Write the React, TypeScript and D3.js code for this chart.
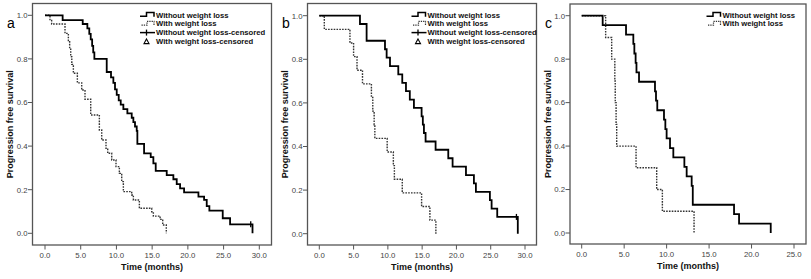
import React from "react";
import * as d3 from "d3";

// ---------- data ----------
const yTicks = [0, 0.2, 0.4, 0.6, 0.8, 1.0];
const xTicksAB = [0, 5, 10, 15, 20, 25, 30];
const xTicksC = [0, 5, 10, 15, 20, 25];
const panelLabels = ["a", "b", "c"];
const seriesNames = ["Without weight loss", "With weight loss"];
const censorNames = ["Without weight loss-censored", "With weight loss-censored"];

// panel a
const aWithoutTime = [2.47, 5.28, 5.93, 6.2, 6.4, 6.6, 6.75, 6.91, 8.64, 9.24, 9.57, 9.8, 10.04, 10.32, 10.6, 10.97, 11.53, 12.14, 12.37, 12.6, 12.84, 12.93, 13.87, 14.8, 15.17, 15.5, 17.04, 17.97, 18.44, 18.91, 19.47, 21.48, 22.27, 22.64, 23.01, 24.88, 25.91, 29.05];
const aWithoutSurv = [0.978, 0.96, 0.94, 0.915, 0.89, 0.86, 0.83, 0.8, 0.74, 0.715, 0.69, 0.66, 0.635, 0.61, 0.59, 0.57, 0.55, 0.53, 0.51, 0.49, 0.47, 0.41, 0.367, 0.349, 0.321, 0.286, 0.267, 0.248, 0.226, 0.206, 0.188, 0.168, 0.153, 0.125, 0.104, 0.069, 0.041, 0];
const aWithTime = [0.7, 0.93, 2.8, 3.27, 3.45, 3.6, 3.75, 3.97, 4.53, 5.14, 5.6, 6.4, 7.61, 7.94, 8.54, 8.78, 9.34, 9.94, 10.41, 10.74, 10.97, 12.14, 12.37, 13.21, 14.94, 15.17, 16.11, 16.48, 16.98];
const aWithSurv = [0.98, 0.96, 0.917, 0.879, 0.845, 0.81, 0.775, 0.734, 0.69, 0.657, 0.615, 0.543, 0.474, 0.428, 0.39, 0.367, 0.336, 0.306, 0.275, 0.237, 0.191, 0.176, 0.153, 0.115, 0.099, 0.079, 0.064, 0.038, 0];
const aCensorTime = [28.8];
const aCensorSurv = [0.041];

// panel b
const bWithoutTime = [5.93, 6.9, 9.58, 9.82, 10.31, 11.52, 12.1, 12.64, 13.2, 13.8, 14.92, 15.1, 15.26, 15.5, 16.96, 18.81, 19.44, 21.39, 22.55, 22.84, 24.88, 25.13, 25.95, 28.95];
const bWithoutSurv = [0.962, 0.885, 0.846, 0.808, 0.769, 0.731, 0.692, 0.654, 0.615, 0.577, 0.538, 0.5, 0.462, 0.423, 0.385, 0.346, 0.308, 0.269, 0.231, 0.192, 0.154, 0.115, 0.077, 0];
const bWithTime = [0.73, 4.47, 5.0, 5.5, 6.3, 7.6, 7.8, 8.0, 8.1, 9.9, 10.8, 10.95, 12.1, 14.92, 16.13, 17.0];
const bWithSurv = [0.9375, 0.875, 0.8125, 0.75, 0.6875, 0.625, 0.5625, 0.5, 0.4375, 0.375, 0.3125, 0.25, 0.1875, 0.125, 0.0625, 0];
const bCensorTime = [28.75];
const bCensorSurv = [0.077];

// panel c
const cWithoutTime = [2.47, 5.22, 6.08, 6.2, 6.35, 6.45, 6.75, 8.63, 8.75, 8.9, 9.69, 9.85, 10.0, 10.4, 10.79, 12.09, 12.36, 12.95, 13.08, 17.94, 18.53, 22.26];
const cWithoutSurv = [0.957, 0.913, 0.87, 0.826, 0.783, 0.739, 0.696, 0.652, 0.609, 0.565, 0.522, 0.478, 0.435, 0.391, 0.348, 0.304, 0.261, 0.217, 0.13, 0.087, 0.043, 0];
const cWithTime = [2.82, 3.53, 3.9, 3.95, 4.05, 4.12, 6.4, 8.83, 9.5, 13.23];
const cWithSurv = [0.9, 0.8, 0.7, 0.6, 0.5, 0.4, 0.3, 0.2, 0.1, 0];

// ---------- layout ----------
const W = 811;
const H = 279;
const FONT = "'Liberation Sans', Arial, Helvetica, sans-serif";

type Panel = {
  label: string;
  frame: [number, number, number, number]; // x0,y0,x1,y1
  xDomain: [number, number];
  xRange: [number, number];
  yRange: [number, number]; // y(0), y(1)
  xTicks: number[];
  solid: [number[], number[]];
  dotted: [number[], number[]];
  censor: [number[], number[]] | null;
  legendX: number;
  legendRows: string[];
  labelPos: [number, number];
  yTitleX: number;
};

const panels: Panel[] = [
  {
    label: panelLabels[0],
    frame: [32.5, 3.5, 271.5, 245],
    xDomain: [0, 30],
    xRange: [45, 259.3],
    yRange: [233.3, 15.3],
    xTicks: xTicksAB,
    solid: [aWithoutTime, aWithoutSurv],
    dotted: [aWithTime, aWithSurv],
    censor: [aCensorTime, aCensorSurv],
    legendX: 140,
    legendRows: [seriesNames[0], seriesNames[1], censorNames[0], censorNames[1]],
    labelPos: [7, 28],
    yTitleX: 12.5,
  },
  {
    label: panelLabels[1],
    frame: [307.5, 3.5, 536.5, 245],
    xDomain: [0, 30],
    xRange: [319.3, 525],
    yRange: [233.7, 15.7],
    xTicks: xTicksAB,
    solid: [bWithoutTime, bWithoutSurv],
    dotted: [bWithTime, bWithSurv],
    censor: [bCensorTime, bCensorSurv],
    legendX: 411.5,
    legendRows: [seriesNames[0], seriesNames[1], censorNames[0], censorNames[1]],
    labelPos: [282, 28],
    yTitleX: 288,
  },
  {
    label: panelLabels[2],
    frame: [570, 4, 806, 244],
    xDomain: [0, 25],
    xRange: [581.7, 794],
    yRange: [233, 15.7],
    xTicks: xTicksC,
    solid: [cWithoutTime, cWithoutSurv],
    dotted: [cWithTime, cWithSurv],
    censor: null,
    legendX: 706.5,
    legendRows: [seriesNames[0], seriesNames[1]],
    labelPos: [545, 28],
    yTitleX: 551,
  },
];

function stepPath(
  times: number[],
  surv: number[],
  x: d3.ScaleLinear<number, number>,
  y: d3.ScaleLinear<number, number>
) {
  const pts: [number, number][] = [[0, 1]];
  let prev = 1;
  times.forEach((t, i) => {
    pts.push([t, prev]);
    pts.push([t, surv[i]]);
    prev = surv[i];
  });
  const line = d3
    .line<[number, number]>()
    .x((d) => x(d[0]))
    .y((d) => y(d[1]));
  return line(pts) || "";
}

function PanelView({ p }: { p: Panel }) {
  const x = d3.scaleLinear().domain(p.xDomain).range(p.xRange);
  const y = d3.scaleLinear().domain([0, 1]).range(p.yRange);
  const [fx0, fy0, fx1, fy1] = p.frame;
  const fmt = d3.format(".1f");
  const rowY = [14.8, 23.6, 32.6, 41.6];
  const lx = p.legendX;
  return (
    <g>
      <rect x={fx0} y={fy0} width={fx1 - fx0} height={fy1 - fy0} fill="none" stroke="#555" strokeWidth={1.3} />
      {yTicks.map((v) => (
        <g key={"y" + v}>
          <line x1={fx0 - 4.5} x2={fx0} y1={y(v)} y2={y(v)} stroke="#555" strokeWidth={1} />
          <text x={fx0 - 5} y={y(v) + 2.8} fontSize={7.8} fill="#444" textAnchor="end" fontFamily={FONT}>
            {fmt(v)}
          </text>
        </g>
      ))}
      {p.xTicks.map((v) => (
        <g key={"x" + v}>
          <line x1={x(v)} x2={x(v)} y1={fy1} y2={fy1 + 4.5} stroke="#555" strokeWidth={1} />
          <text x={x(v)} y={fy1 + 12.5} fontSize={7.8} fill="#444" textAnchor="middle" fontFamily={FONT}>
            {fmt(v)}
          </text>
        </g>
      ))}
      <text
        x={(fx0 + fx1) / 2}
        y={fy1 + 25}
        fontSize={9}
        fontWeight="bold"
        textAnchor="middle"
        fontFamily={FONT}
        fill="#111"
      >
        Time (months)
      </text>
      <text
        transform={`translate(${p.yTitleX},${(fy0 + fy1) / 2}) rotate(-90)`}
        fontSize={9}
        fontWeight="bold"
        textAnchor="middle"
        fontFamily={FONT}
        fill="#111"
      >
        Progression free survival
      </text>
      <text x={p.labelPos[0]} y={p.labelPos[1]} fontSize={14} fontFamily={FONT} fill="#000">
        {p.label}
      </text>
      <path
        d={stepPath(p.dotted[0], p.dotted[1], x, y)}
        fill="none"
        stroke="#333"
        strokeWidth={1.4}
        strokeDasharray="1.6,1.2"
      />
      <path d={stepPath(p.solid[0], p.solid[1], x, y)} fill="none" stroke="#000" strokeWidth={1.8} />
      {p.censor &&
        p.censor[0].map((t, i) => (
          <line
            key={"c" + i}
            x1={x(t)}
            x2={x(t)}
            y1={y(p.censor![1][i]) - 3}
            y2={y(p.censor![1][i]) + 3}
            stroke="#000"
            strokeWidth={1.3}
          />
        ))}
      {/* legend */}
      {p.legendRows.map((name, i) => (
        <text
          key={name}
          x={lx + 16}
          y={rowY[i] + 2.8}
          fontSize={7.7}
          fontWeight="bold"
          fontFamily={FONT}
          fill="#111"
        >
          {name}
        </text>
      ))}
      <path
        d={`M${lx},${rowY[0] + 1.5} H${lx + 6.5} V${rowY[0] - 2.2} H${lx + 14} V${rowY[0] + 2}`}
        fill="none"
        stroke="#000"
        strokeWidth={1.5}
      />
      <path
        d={`M${lx + 1.5},${rowY[1] + 1.5} H${lx + 7} V${rowY[1] - 2.2} H${lx + 14} V${rowY[1] + 2}`}
        fill="none"
        stroke="#333"
        strokeWidth={1.2}
        strokeDasharray="1.3,1"
      />
      {p.legendRows.length > 2 && (
        <g>
          <line x1={lx} x2={lx + 15} y1={rowY[2]} y2={rowY[2]} stroke="#000" strokeWidth={1.5} />
          <line x1={lx + 6.5} x2={lx + 6.5} y1={rowY[2] - 3} y2={rowY[2] + 3} stroke="#000" strokeWidth={1.3} />
          <path
            d={`M${lx + 6.5},${rowY[3] - 2.6} L${lx + 9},${rowY[3] + 2} L${lx + 4},${rowY[3] + 2} Z`}
            fill="none"
            stroke="#000"
            strokeWidth={1.1}
          />
        </g>
      )}
    </g>
  );
}

export default function App() {
  return (
    <svg
      width={W}
      height={H}
      viewBox={`0 0 ${W} ${H}`}
      style={{ position: "absolute", left: 0, top: 0, background: "#fff" }}
    >
      <rect x={0} y={0} width={W} height={H} fill="#fff" />
      {panels.map((p) => (
        <PanelView key={p.label} p={p} />
      ))}
    </svg>
  );
}
